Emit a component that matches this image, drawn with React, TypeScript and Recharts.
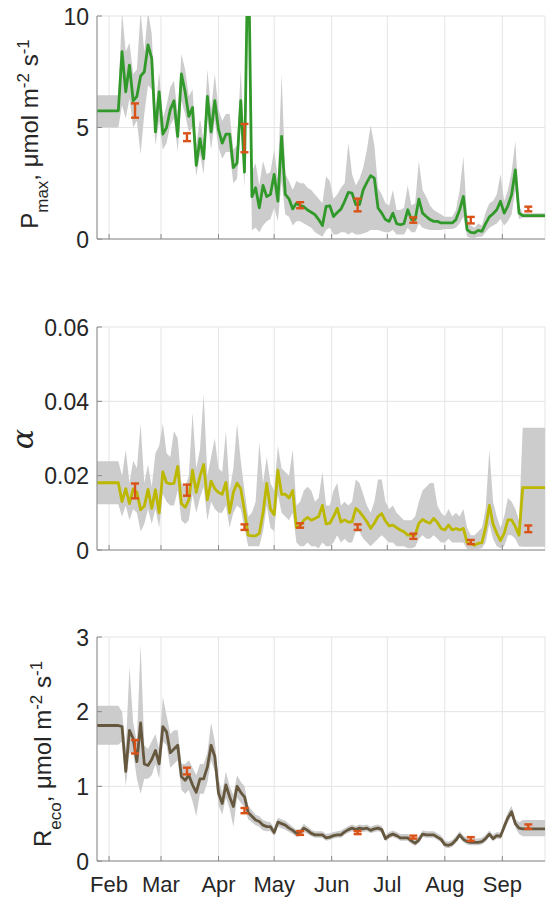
import {
  ComposedChart,
  Area,
  Line,
  Scatter,
  ErrorBar,
  XAxis,
  YAxis,
  CartesianGrid,
} from "recharts";

// day of year, every second day from late January to late September
const DAYS = [
  25, 27, 29, 31, 33, 35, 37, 39, 41, 43, 45, 47, 49, 51, 53, 55, 57, 59, 61, 63,
  65, 67, 69, 71, 73, 75, 77, 79, 81, 83, 85, 87, 89, 91, 93, 95, 97, 99, 101, 103,
  105, 107, 109, 111, 113, 115, 117, 119, 121, 123, 125, 127, 129, 131, 133, 135,
  137, 139, 141, 143, 145, 147, 149, 151, 153, 155, 157, 159, 161, 163, 165, 167,
  169, 171, 173, 175, 177, 179, 181, 183, 185, 187, 189, 191, 193, 195, 197, 199,
  201, 203, 205, 207, 209, 211, 213, 215, 217, 219, 221, 223, 225, 227, 229, 231,
  233, 235, 237, 239, 241, 243, 245, 247, 249, 251, 253, 255, 257, 259, 261, 263,
  265, 267,
];

const MONTH_TICKS = [32, 60, 91, 121, 152, 182, 213, 244];
const MONTH_LABELS = ["Feb", "Mar", "Apr", "May", "Jun", "Jul", "Aug", "Sep"];
const MONTH_MIDS = [46, 74, 105, 135, 166, 196, 227, 258];

// Pmax, umol m-2 s-1
const PMAX = [
  5.75, 5.75, 5.75, 5.75, 5.75, 5.75, 5.75,
  8.4, 6.6, 7.8, 6.2, 6.4, 7.3, 7.5, 8.7, 8.1, 4.8,
  6.6, 4.7, 5.0, 5.8, 6.2, 4.6, 7.4, 6.6, 5.5, 5.9,
  3.3, 4.5, 3.6, 6.4, 4.8, 6.2, 4.9, 4.3, 4.7, 4.7,
  3.2, 3.4, 6.2, 3.0, 14, 1.9, 2.3, 1.4, 2.4, 1.9,
  2.0, 2.9, 1.7, 4.6, 2.0, 1.8, 1.35, 1.6, 1.5, 1.45,
  1.3, 1.2, 1.09, 0.87, 0.6, 1.46, 1.49, 1.01, 1.19, 1.34,
  1.69, 2.09, 2.06, 1.54, 1.54, 2.2, 2.54, 2.84, 2.73, 1.39,
  1.16, 0.87, 0.79, 1.16, 0.69, 0.64, 0.69, 1.31, 0.87, 0.87,
  1.79, 1.16, 1.01, 0.87, 0.79, 0.79, 0.72, 0.72, 0.72, 0.72,
  0.87, 1.31, 1.91, 0.42, 0.3, 0.27, 0.39, 0.34, 0.69, 0.99,
  1.13, 1.31, 1.69, 1.16, 1.49, 1.99, 3.1, 1.16, 1.05, 1.05,
  1.05, 1.05, 1.05, 1.05, 1.05,
];
const PMAX_LO = [
  5.0, 5.0, 5.0, 5.0, 5.0, 5.0, 5.0,
  6.0, 5.4, 6.3, 5.0, 5.3, 3.8, 5.6, 6.9, 6.7, 4.2,
  5.3, 4.0, 4.3, 5.1, 5.4, 3.9, 6.2, 5.6, 4.8, 5.0,
  2.8, 3.8, 2.9, 5.4, 4.0, 5.3, 4.1, 3.6, 3.9, 3.9,
  2.5, 2.7, 5.2, 2.3, 11, 0.4, 0.5, 0.3, 0.6, 0.8,
  0.9, 1.4, 0.8, 2.6, 1.1, 1.0, 0.6, 0.8, 0.8, 0.7,
  0.6, 0.5, 0.3, 0.2, 0.1, 0.4, 0.5, 0.2, 0.2, 0.3,
  0.3, 0.2, 0.3, 0.2, 0.2, 0.25, 0.3, 0.4, 0.4, 0.4,
  0.35, 0.3, 0.3, 0.4, 0.2, 0.2, 0.2, 0.5, 0.3, 0.3,
  0.7, 0.5, 0.45, 0.4, 0.4, 0.4, 0.4, 0.45, 0.45, 0.45,
  0.5, 0.7, 1.0, 0.1, 0.05, 0.05, 0.1, 0.1, 0.3, 0.5,
  0.6, 0.7, 0.9, 0.6, 0.8, 1.1, 2.2, 0.9, 0.95, 0.95,
  0.95, 0.95, 0.95, 0.95, 0.95,
];
const PMAX_HI = [
  6.45, 6.45, 6.45, 6.45, 6.45, 6.45, 6.45,
  10.2, 8.4, 8.8, 7.4, 7.6, 10.2, 8.4, 10.2, 9.2, 5.8,
  7.5, 5.4, 6.0, 6.8, 7.1, 5.6, 8.3, 7.6, 6.4, 6.7,
  4.2, 5.4, 4.4, 7.6, 5.8, 7.4, 5.8, 5.3, 5.6, 5.6,
  4.0, 4.2, 7.6, 3.9, 16, 3.0, 3.4, 2.4, 3.5, 2.9,
  3.0, 4.0, 2.7, 7.4, 2.9, 2.6, 2.2, 2.6, 2.5, 2.5,
  2.3, 2.2, 2.0, 1.8, 1.6, 2.8, 2.6, 1.8, 2.0, 2.3,
  2.5, 4.3, 2.9, 2.4, 2.7, 3.2, 4.0, 5.1, 4.2, 2.3,
  2.0, 1.6, 1.5, 2.2, 1.3, 1.3, 1.4, 2.4, 1.5, 1.6,
  3.5, 2.2, 1.9, 1.5, 1.3, 1.2, 1.1, 1.0, 1.0, 1.0,
  1.3, 2.2, 3.7, 0.9, 0.6, 0.5, 0.7, 0.6, 1.2, 1.6,
  1.7, 2.0, 2.9, 1.7, 2.2, 3.0, 4.4, 1.5, 1.15, 1.15,
  1.15, 1.15, 1.15, 1.15, 1.15,
];
const PMAX_MONTH_LO = [5.44, 4.39, 3.89, 1.38, 1.24, 0.73, 0.7, 1.24];
const PMAX_MONTH_HI = [6.08, 4.74, 5.16, 1.65, 1.81, 0.97, 0.99, 1.45];

// alpha, quantum efficiency
const ALPHA = [
  0.0181, 0.0181, 0.0181, 0.0181, 0.0181, 0.0181, 0.0181,
  0.013, 0.0165, 0.0125, 0.0164, 0.0155, 0.0108, 0.0118, 0.0163, 0.0112, 0.0162,
  0.01, 0.021, 0.0181, 0.0178, 0.0179, 0.0225, 0.0125, 0.0115, 0.0135, 0.0215,
  0.0155, 0.0198, 0.023, 0.0135, 0.0185, 0.0165, 0.0155, 0.015, 0.0182, 0.01,
  0.0155, 0.018, 0.0165, 0.0105, 0.004, 0.0038, 0.0038, 0.0045, 0.01, 0.0179,
  0.011, 0.0095, 0.0215, 0.015, 0.015, 0.014, 0.016, 0.006, 0.0065, 0.008,
  0.0088, 0.008, 0.0085, 0.009, 0.012, 0.007, 0.0072, 0.009, 0.0112, 0.0075,
  0.0081, 0.0075, 0.0076, 0.0112, 0.0103, 0.009, 0.0076, 0.0058, 0.0072, 0.009,
  0.0098, 0.0078, 0.0065, 0.0067, 0.006, 0.0054, 0.0049, 0.004, 0.004, 0.004,
  0.0072, 0.0082, 0.0076, 0.0072, 0.0085, 0.0074, 0.0058, 0.0054, 0.0067, 0.0054,
  0.0058, 0.0054, 0.0058, 0.002, 0.0016, 0.0013, 0.0018, 0.002, 0.006, 0.012,
  0.007, 0.0045, 0.0025, 0.0045, 0.0081, 0.0081, 0.0063, 0.004, 0.0168, 0.0168,
  0.0168, 0.0168, 0.0168, 0.0168, 0.0168,
];
const ALPHA_LO = [
  0.0123, 0.0123, 0.0123, 0.0123, 0.0123, 0.0123, 0.0123,
  0.009, 0.012, 0.008, 0.011, 0.01, 0.005, 0.007, 0.011, 0.007, 0.011,
  0.006, 0.015, 0.013, 0.012, 0.012, 0.016, 0.008, 0.007, 0.008, 0.015,
  0.01, 0.014, 0.017, 0.008, 0.013, 0.011, 0.01, 0.01, 0.012, 0.006,
  0.01, 0.012, 0.011, 0.006, 0.001, 0.001, 0.001, 0.001, 0.005, 0.012,
  0.006, 0.005, 0.015, 0.01, 0.009, 0.008, 0.01, 0.002, 0.001, 0.001,
  0.002, 0.001, 0.001, 0.0005, 0.002, 0.001, 0.001, 0.002, 0.004, 0.002,
  0.003, 0.002, 0.002, 0.005, 0.005, 0.003, 0.002, 0.001, 0.002, 0.003,
  0.004, 0.003, 0.002, 0.002, 0.001, 0.001, 0.001, 0.0005, 0.0005, 0.0008,
  0.003, 0.004, 0.003, 0.003, 0.004, 0.003, 0.002, 0.002, 0.003, 0.002,
  0.002, 0.002, 0.002, 0.0003, 0.0002, 0.0002, 0.0003, 0.0005, 0.002, 0.007,
  0.003, 0.001, 0.0005, 0.001, 0.004, 0.004, 0.003, 0.001, 0.0009, 0.0009,
  0.0009, 0.0009, 0.0009, 0.0009, 0.0009,
];
const ALPHA_HI = [
  0.0239, 0.0239, 0.0239, 0.0239, 0.0239, 0.0239, 0.0239,
  0.02, 0.027, 0.018, 0.024, 0.022, 0.034, 0.018, 0.023, 0.017, 0.026,
  0.028, 0.034, 0.026, 0.025, 0.032, 0.03, 0.018, 0.017, 0.02, 0.037,
  0.022, 0.027, 0.042, 0.02, 0.025, 0.03, 0.022, 0.021, 0.032, 0.016,
  0.022, 0.034, 0.024, 0.016, 0.009, 0.01, 0.013, 0.029, 0.018, 0.025,
  0.018, 0.016, 0.028, 0.022, 0.021, 0.02, 0.027, 0.012, 0.013, 0.016,
  0.017, 0.016, 0.013, 0.014, 0.021, 0.012, 0.012, 0.016, 0.018, 0.012,
  0.013, 0.012, 0.013, 0.019, 0.018, 0.015, 0.012, 0.01, 0.013, 0.019,
  0.019, 0.013, 0.011, 0.012, 0.01, 0.009, 0.008, 0.008, 0.008, 0.009,
  0.013, 0.016, 0.017, 0.018, 0.018, 0.012, 0.01, 0.009, 0.011, 0.009,
  0.01, 0.009, 0.011, 0.006, 0.004, 0.004, 0.005, 0.006, 0.011, 0.027,
  0.013, 0.009, 0.006, 0.009, 0.014, 0.013, 0.011, 0.008, 0.0329, 0.0329,
  0.0329, 0.0329, 0.0329, 0.0329, 0.0329,
];
const ALPHA_MONTH_LO = [0.0139, 0.0146, 0.0054, 0.006, 0.0054, 0.003, 0.0016, 0.0048];
const ALPHA_MONTH_HI = [0.0179, 0.0176, 0.0069, 0.0072, 0.0069, 0.0044, 0.0027, 0.0066];

// Reco, umol m-2 s-1
const RECO = [
  1.815, 1.815, 1.815, 1.815, 1.815, 1.815, 1.815,
  1.8, 1.2, 1.75, 1.64, 1.33, 1.85, 1.3, 1.28, 1.36, 1.48,
  1.3, 1.8, 1.73, 1.45, 1.5, 1.55, 1.13, 1.08, 1.15, 1.02,
  0.92, 1.1, 1.1, 1.26, 1.55, 1.4, 0.91, 0.77, 1.02, 0.86,
  0.73, 1.0, 0.92, 0.86, 0.65, 0.6, 0.55, 0.53, 0.48, 0.46,
  0.46, 0.38, 0.52, 0.5, 0.48, 0.44, 0.41, 0.37, 0.38, 0.44,
  0.41, 0.37, 0.35, 0.35, 0.35, 0.31, 0.32, 0.34, 0.35, 0.35,
  0.39, 0.42, 0.44, 0.42, 0.44, 0.43, 0.44, 0.41, 0.43, 0.44,
  0.42, 0.3, 0.34, 0.36, 0.34, 0.31, 0.31, 0.31, 0.27, 0.24,
  0.28, 0.36, 0.35, 0.35, 0.35, 0.32, 0.29, 0.22, 0.21, 0.23,
  0.28, 0.35, 0.29, 0.26, 0.25, 0.25, 0.25, 0.26, 0.3, 0.36,
  0.3, 0.34, 0.33, 0.46, 0.58, 0.66, 0.5, 0.44, 0.43, 0.43,
  0.43, 0.43, 0.43, 0.43, 0.43,
];
const RECO_LO = [
  1.556, 1.556, 1.556, 1.556, 1.556, 1.556, 1.556,
  1.6, 1.0, 1.45, 1.45, 1.1, 0.9, 1.1, 1.1, 1.15, 1.3,
  1.1, 1.6, 1.55, 1.25, 1.3, 1.35, 0.95, 0.9, 0.95, 0.8,
  0.6, 0.9, 0.9, 1.05, 1.35, 1.2, 0.75, 0.62, 0.85, 0.7,
  0.46, 0.85, 0.78, 0.72, 0.56, 0.52, 0.48, 0.46, 0.41, 0.4,
  0.4, 0.33, 0.46, 0.44, 0.42, 0.39, 0.36, 0.32, 0.33, 0.39,
  0.36, 0.33, 0.31, 0.31, 0.31, 0.27, 0.28, 0.3, 0.31, 0.31,
  0.35, 0.38, 0.4, 0.38, 0.4, 0.39, 0.4, 0.37, 0.39, 0.4,
  0.38, 0.26, 0.3, 0.32, 0.3, 0.27, 0.27, 0.27, 0.23, 0.2,
  0.24, 0.32, 0.31, 0.31, 0.31, 0.28, 0.25, 0.18, 0.17, 0.19,
  0.24, 0.31, 0.25, 0.22, 0.21, 0.21, 0.21, 0.22, 0.26, 0.32,
  0.26, 0.3, 0.29, 0.41, 0.52, 0.6, 0.45, 0.36, 0.33, 0.33,
  0.33, 0.33, 0.33, 0.33, 0.33,
];
const RECO_HI = [
  2.08, 2.08, 2.08, 2.08, 2.08, 2.08, 2.08,
  2.0, 1.5, 2.6, 1.85, 1.6, 2.9, 1.55, 1.5, 1.6, 1.7,
  1.5, 2.2, 1.95, 1.7, 1.75, 1.75, 1.3, 1.3, 1.35, 1.25,
  1.15, 1.3, 1.3, 1.45, 1.85, 1.6, 1.1, 0.92, 1.2, 1.0,
  0.88, 1.15, 1.06, 1.0, 0.74, 0.68, 0.62, 0.6, 0.55, 0.53,
  0.52, 0.44, 0.58, 0.56, 0.54, 0.5, 0.46, 0.42, 0.43, 0.5,
  0.46, 0.42, 0.4, 0.4, 0.4, 0.36, 0.37, 0.39, 0.4, 0.41,
  0.44, 0.47, 0.49, 0.47, 0.49, 0.48, 0.49, 0.46, 0.48, 0.49,
  0.47, 0.35, 0.39, 0.41, 0.39, 0.36, 0.36, 0.36, 0.32, 0.29,
  0.33, 0.41, 0.4, 0.4, 0.4, 0.37, 0.34, 0.27, 0.26, 0.28,
  0.33, 0.4, 0.34, 0.31, 0.3, 0.3, 0.3, 0.31, 0.35, 0.41,
  0.35, 0.39, 0.38, 0.52, 0.65, 0.74, 0.56, 0.52, 0.55, 0.55,
  0.55, 0.55, 0.55, 0.55, 0.55,
];
const RECO_MONTH_LO = [1.44, 1.16, 0.64, 0.35, 0.36, 0.3, 0.27, 0.43];
const RECO_MONTH_HI = [1.62, 1.25, 0.71, 0.4, 0.4, 0.34, 0.32, 0.49];

const FONT = "'Liberation Sans', Arial, Helvetica, sans-serif";
const TEXT = "#262626";
const AXIS = "#8a8a8a";
const GRID = "#e4e4e4";
const BAND = "#cccccc";
const ORANGE = "#d95319";
const X_DOMAIN: [number, number] = [25.5, 267];
const TICK_LEN = 5;

function buildSeries(mean: number[], lo: number[], hi: number[]) {
  return DAYS.map((day, i) => ({ day, mean: mean[i], band: [lo[i], hi[i]] }));
}

function buildMonthly(lo: number[], hi: number[]) {
  return MONTH_MIDS.map((day, i) => ({
    day,
    mid: (lo[i] + hi[i]) / 2,
    err: (hi[i] - lo[i]) / 2,
  }));
}

function BottomTick({ x, y, payload, showLabel }: any) {
  const label = MONTH_LABELS[MONTH_TICKS.indexOf(payload.value)];
  return (
    <g>
      <line x1={x} y1={y} x2={x} y2={y - TICK_LEN} stroke={AXIS} />
      {showLabel && (
        <text x={x} y={y + 31} textAnchor="middle" fontSize={22} fill={TEXT} fontFamily={FONT}>
          {label}
        </text>
      )}
    </g>
  );
}

function TopTick({ x, y }: any) {
  return <line x1={x} y1={y} x2={x} y2={y + TICK_LEN} stroke={AXIS} />;
}

function LeftTick({ x, y, payload }: any) {
  return (
    <g>
      <line x1={x} y1={y} x2={x + TICK_LEN} y2={y} stroke={AXIS} />
      <text x={x - 8} y={y + 8.5} textAnchor="end" fontSize={23} fill={TEXT} fontFamily={FONT}>
        {String(payload.value)}
      </text>
    </g>
  );
}

function RightTick({ x, y }: any) {
  return <line x1={x} y1={y} x2={x - TICK_LEN} y2={y} stroke={AXIS} />;
}

function NoMarker() {
  return <g />;
}

// rotated y-axis title with sub- and superscripts
function AxisTitle({ cx, cy, name, sub, units, italic }: any) {
  return (
    <text
      transform={`translate(${cx},${cy}) rotate(-90)`}
      textAnchor="middle"
      fontSize={italic ? 30 : 24}
      fill={TEXT}
      fontFamily={italic ? "'DejaVu Serif', 'Liberation Serif', serif" : FONT}
      fontStyle={italic ? "italic" : "normal"}
    >
      <tspan>{name}</tspan>
      {sub && (
        <tspan baselineShift="sub" fontSize={17}>
          {sub}
        </tspan>
      )}
      {units && (
        <>
          <tspan>, μmol m</tspan>
          <tspan baselineShift="super" fontSize={17}>-2</tspan>
          <tspan> s</tspan>
          <tspan baselineShift="super" fontSize={17}>-1</tspan>
        </>
      )}
    </text>
  );
}

function Panel({
  top,
  height,
  plotTop,
  plotBottom,
  series,
  monthly,
  color,
  yMax,
  yTicks,
  title,
  showMonths,
}: any) {
  const yProps = {
    type: "number" as const,
    domain: [0, yMax],
    allowDataOverflow: true,
    ticks: yTicks,
    interval: 0 as const,
    axisLine: { stroke: AXIS },
    tickLine: false,
    tickSize: 0,
    tickMargin: 0,
  };
  const xProps = {
    dataKey: "day",
    type: "number" as const,
    domain: X_DOMAIN,
    allowDataOverflow: true,
    ticks: MONTH_TICKS,
    interval: 0 as const,
    axisLine: { stroke: AXIS },
    tickLine: false,
    tickSize: 0,
    tickMargin: 0,
  };
  return (
    <div style={{ position: "absolute", left: 0, top }}>
      <ComposedChart
        width={547}
        height={height}
        data={series}
        margin={{ top: plotTop - top, right: 2, bottom: 0, left: 0 }}
      >
        <CartesianGrid stroke={GRID} />
        <XAxis
          {...xProps}
          height={top + height - plotBottom}
          tick={(p: any) => <BottomTick {...p} showLabel={showMonths} />}
        />
        <XAxis {...xProps} xAxisId="top" orientation="top" height={0} tick={TopTick} />
        <YAxis {...yProps} width={97} tick={LeftTick} label={title} />
        <YAxis {...yProps} yAxisId="right" orientation="right" width={0} tick={RightTick} />
        <Area
          dataKey="band"
          type="linear"
          stroke="none"
          fill={BAND}
          fillOpacity={1}
          isAnimationActive={false}
        />
        <Line
          dataKey="mean"
          type="linear"
          stroke={color}
          strokeWidth={2.8}
          strokeLinejoin="round"
          dot={false}
          isAnimationActive={false}
        />
        <Scatter data={monthly} dataKey="mid" shape={NoMarker} isAnimationActive={false}>
          <ErrorBar dataKey="err" direction="y" width={4} stroke={ORANGE} strokeWidth={2.4} />
        </Scatter>
      </ComposedChart>
    </div>
  );
}

export default function App() {
  return (
    <div
      style={{
        position: "absolute",
        left: 0,
        top: 0,
        width: 547,
        height: 900,
        background: "#fff",
        fontFamily: FONT,
      }}
    >
      <Panel
        top={0}
        height={290}
        plotTop={16}
        plotBottom={239}
        series={buildSeries(PMAX, PMAX_LO, PMAX_HI)}
        monthly={buildMonthly(PMAX_MONTH_LO, PMAX_MONTH_HI)}
        color="#31992a"
        yMax={10}
        yTicks={[0, 5, 10]}
        title={<AxisTitle cx={38} cy={134} name="P" sub="max" units />}
      />
      <Panel
        top={290}
        height={300}
        plotTop={327}
        plotBottom={550}
        series={buildSeries(ALPHA, ALPHA_LO, ALPHA_HI)}
        monthly={buildMonthly(ALPHA_MONTH_LO, ALPHA_MONTH_HI)}
        color="#bcb800"
        yMax={0.06}
        yTicks={[0, 0.02, 0.04, 0.06]}
        title={<AxisTitle cx={33} cy={149} name="α" italic />}
      />
      <Panel
        top={590}
        height={310}
        plotTop={637}
        plotBottom={861}
        series={buildSeries(RECO, RECO_LO, RECO_HI)}
        monthly={buildMonthly(RECO_MONTH_LO, RECO_MONTH_HI)}
        color="#66583f"
        yMax={3}
        yTicks={[0, 1, 2, 3]}
        title={<AxisTitle cx={51} cy={164} name="R" sub="eco" units />}
        showMonths
      />
    </div>
  );
}
